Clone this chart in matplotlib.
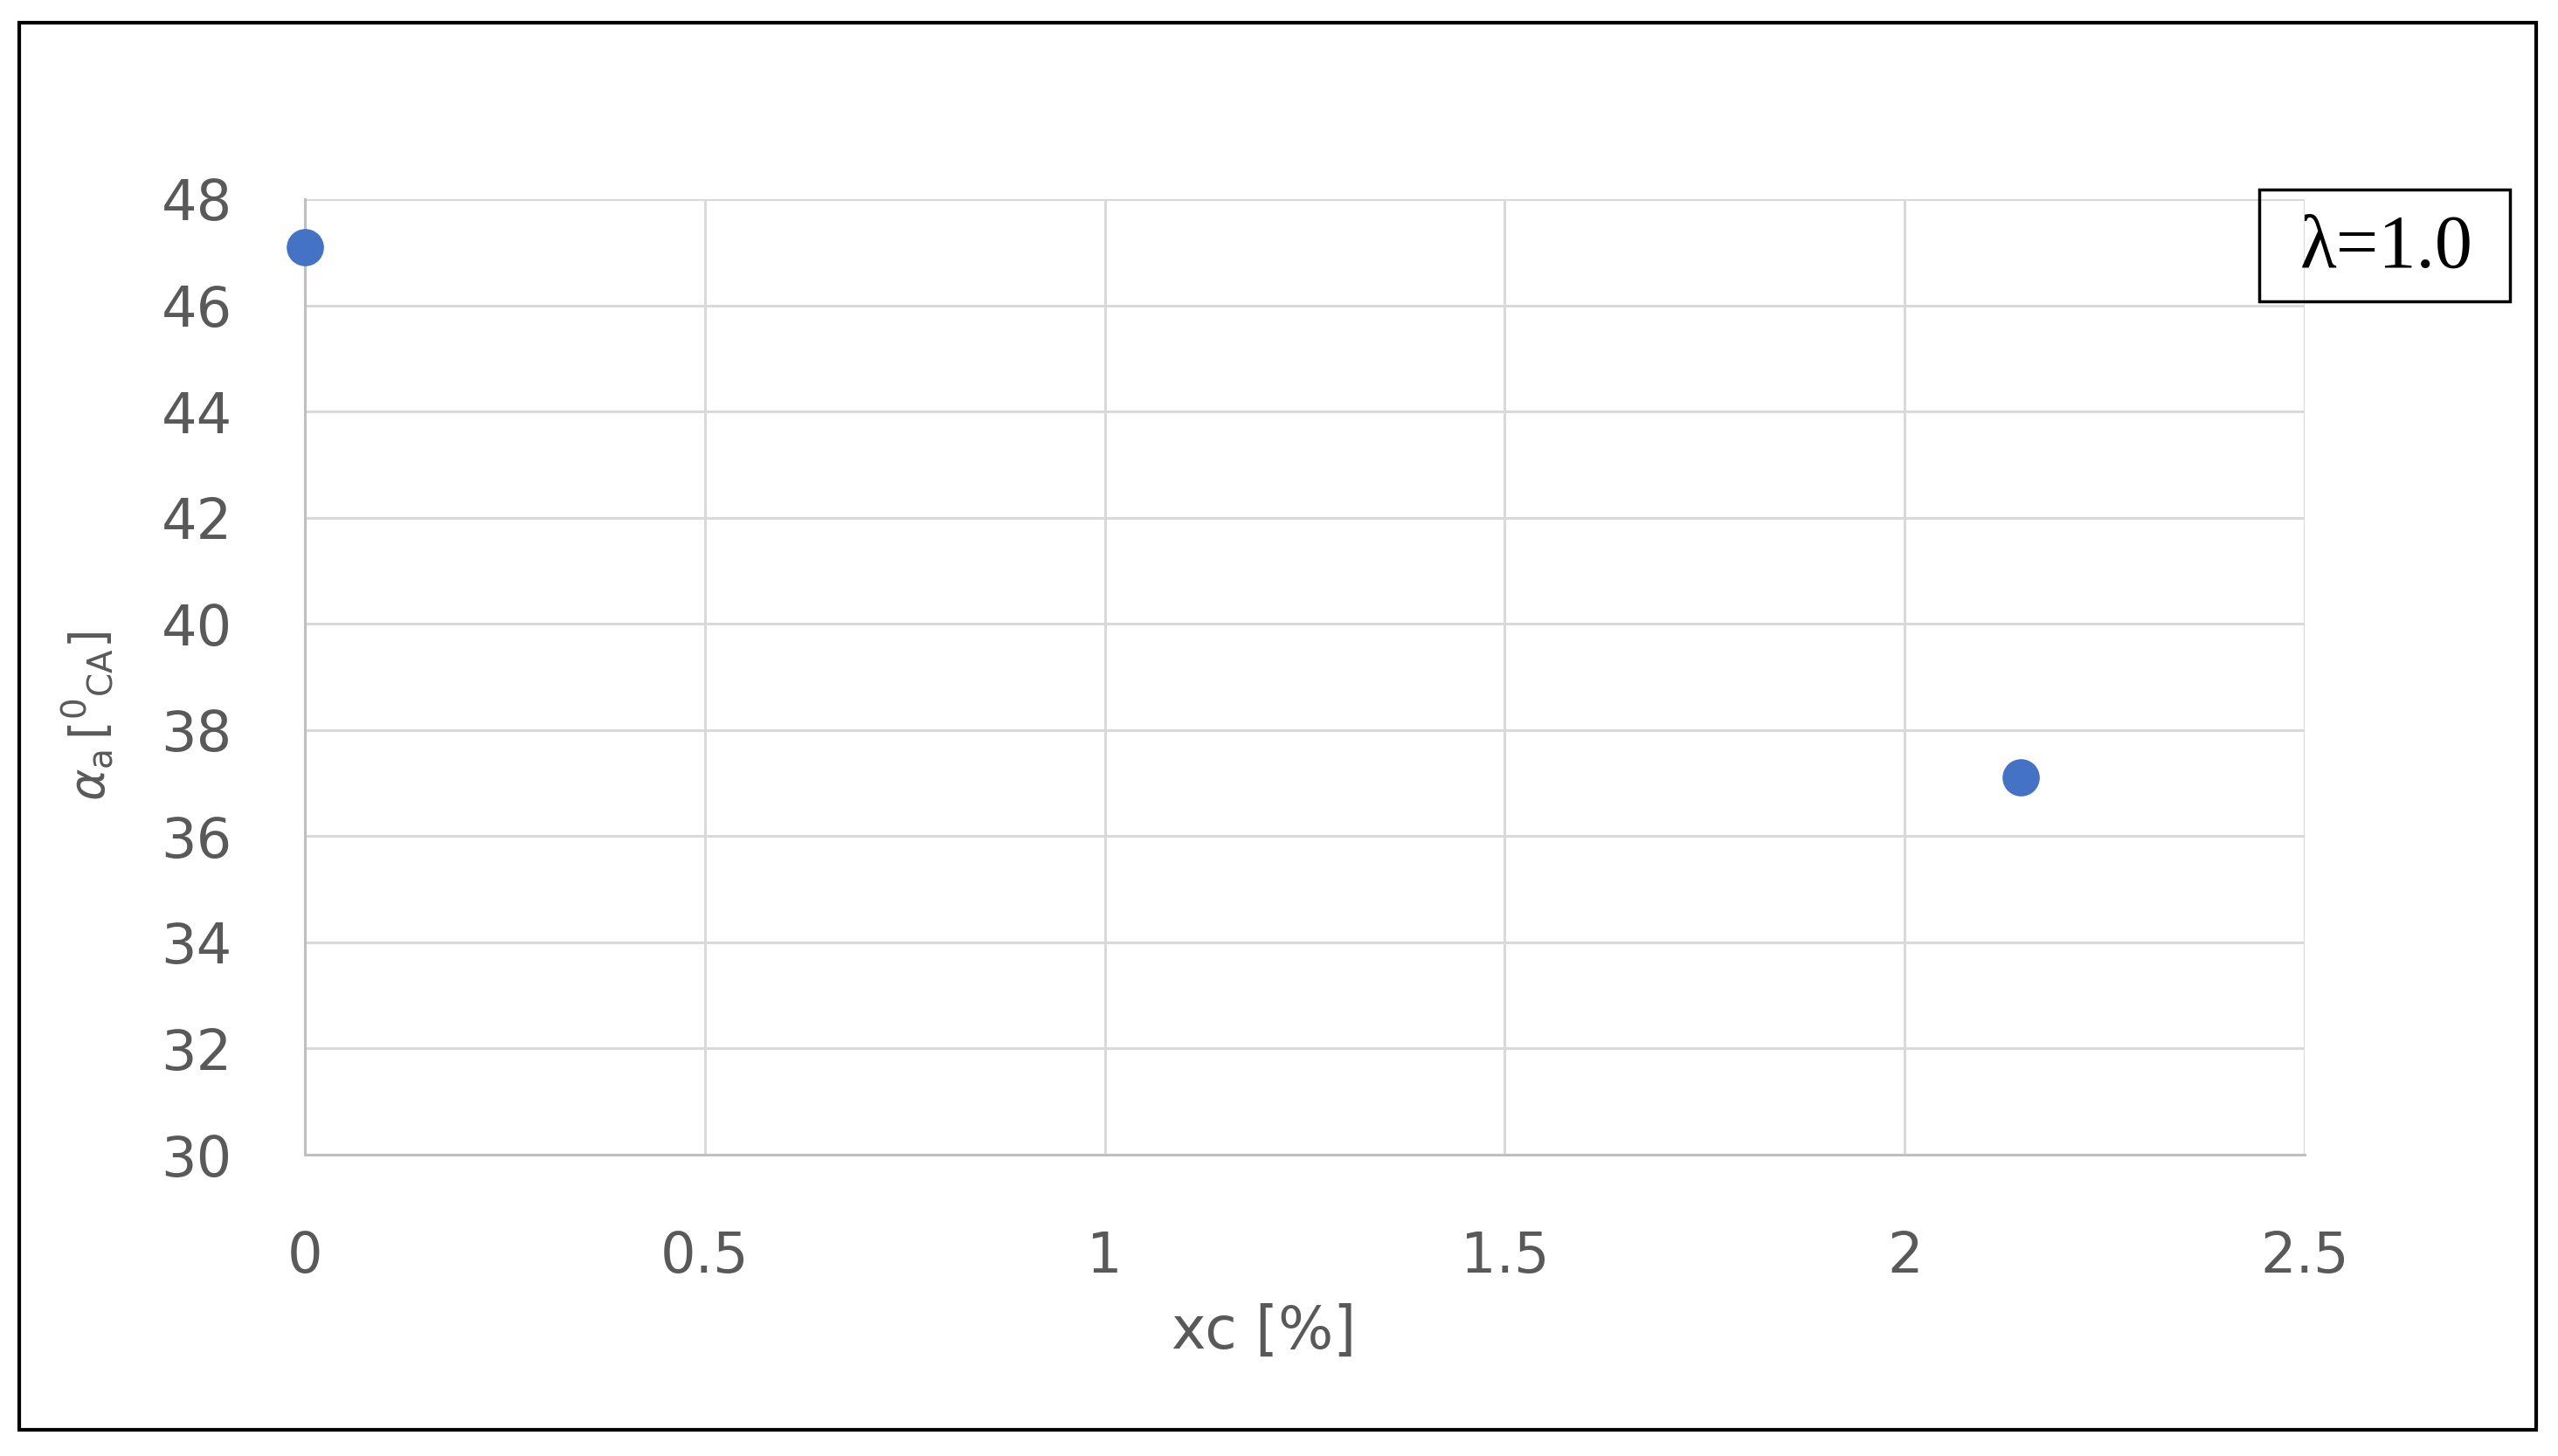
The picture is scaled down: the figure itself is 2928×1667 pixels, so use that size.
import matplotlib.pyplot as plt
from matplotlib.patches import Rectangle

# data
xc = [0.0, 2.145]
alpha_a = [47.1, 37.1]
x_ticks = [0, 0.5, 1, 1.5, 2, 2.5]
x_tick_labels = ["0", "0.5", "1", "1.5", "2", "2.5"]
y_ticks = [30, 32, 34, 36, 38, 40, 42, 44, 46, 48]
box_text = "λ=1.0"

W, H = 2928, 1667
fig = plt.figure(figsize=(W / 100, H / 100), dpi=100)
ax = fig.add_axes([349 / W, 1 - 1322 / H, (2638 - 349) / W, (1322 - 228) / H])

ax.scatter(xc, alpha_a, s=880, color="#4472C4", zorder=3, clip_on=False)

ax.set_xlim(0, 2.5)
ax.set_ylim(30, 48)
ax.set_xticks(x_ticks)
ax.set_xticklabels(x_tick_labels)
ax.set_yticks(y_ticks)
ax.grid(True, color="#D9D9D9", linewidth=2.2)
ax.set_axisbelow(True)
for side in ("top", "right"):
    ax.spines[side].set_visible(False)
for side in ("left", "bottom"):
    ax.spines[side].set_color("#BFBFBF")
    ax.spines[side].set_linewidth(2.2)
ax.tick_params(length=0, labelsize=46, labelcolor="#595959")
ax.tick_params(axis="x", pad=62)
ax.tick_params(axis="y", pad=60)

fig.text(1447 / W, 1 - 1525 / H, "xc [%]", ha="center", va="center",
         fontsize=48, color="#595959")
fig.text(100 / W, 1 - 820 / H, r"$\alpha_{\mathrm{a}}\,[^{0}{}_{\mathrm{CA}}]$",
         rotation=90, ha="center", va="center", fontsize=40, color="#595959")

# text box at upper right
fig.patches.append(Rectangle((2586 / W, 1 - 345 / H), 287 / W, 128 / H,
                             transform=fig.transFigure, fill=False,
                             edgecolor="black", linewidth=2.5))
fig.text(2732 / W, 1 - 285 / H, box_text, ha="center", va="center",
         fontsize=62, family="Liberation Serif", color="black")

# outer frame
fig.patches.append(Rectangle((22 / W, 1 - 1637 / H), (2903 - 22) / W, (1637 - 26) / H,
                             transform=fig.transFigure, fill=False,
                             edgecolor="black", linewidth=3))

fig.savefig("out.png", dpi=100)
